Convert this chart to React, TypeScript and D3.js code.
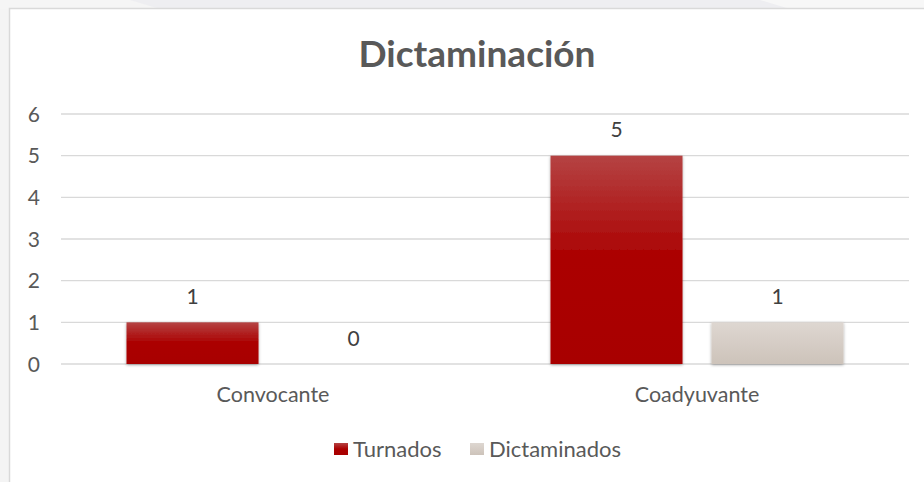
import React, { useEffect, useRef } from "react";
import * as d3 from "d3";

const categories = ["Convocante", "Coadyuvante"];
const seriesNames = ["Turnados", "Dictaminados"];
const turnados = [1, 5];
const dictaminados = [0, 1];
const yTicks = [0, 1, 2, 3, 4, 5, 6];
const title = "Dictaminación";

const W = 924;
const H = 482;
const FONT = "Lato, 'Open Sans', sans-serif";

export default function App() {
  const ref = useRef<SVGSVGElement | null>(null);

  useEffect(() => {
    const svg = d3.select(ref.current);
    svg.selectAll("*").remove();

    const defs = svg.append("defs");
    const g1 = defs.append("linearGradient").attr("id", "gRed").attr("x1", 0).attr("y1", 0).attr("x2", 0).attr("y2", 1);
    g1.append("stop").attr("offset", "0%").attr("stop-color", "#b54343");
    g1.append("stop").attr("offset", "50%").attr("stop-color", "#ab0000");
    g1.append("stop").attr("offset", "100%").attr("stop-color", "#a80000");
    const g2 = defs.append("linearGradient").attr("id", "gBeige").attr("x1", 0).attr("y1", 0).attr("x2", 0).attr("y2", 1);
    g2.append("stop").attr("offset", "0%").attr("stop-color", "#ded7d1");
    g2.append("stop").attr("offset", "100%").attr("stop-color", "#cdc3ba");
    const f = defs.append("filter").attr("id", "shadow").attr("x", "-20%").attr("y", "-20%").attr("width", "140%").attr("height", "140%");
    f.append("feDropShadow").attr("dx", 0).attr("dy", 1).attr("stdDeviation", 1.6).attr("flood-color", "#000").attr("flood-opacity", 0.35);

    // page background
    svg.append("rect").attr("x", 0).attr("y", 0).attr("width", W).attr("height", H).attr("fill", "#f4f4f4");
    svg.append("rect").attr("x", 0).attr("y", 0).attr("width", W).attr("height", 9).attr("fill", "#eeeef1");
    svg.append("path").attr("d", "M0,0 L130,0 L160,9 L0,9 Z").attr("fill", "#f5f5f5");
    svg.append("path").attr("d", "M760,0 L924,0 L924,9 L790,9 Z").attr("fill", "#f7f7f7");
    // chart area
    svg.append("rect").attr("x", 9.5).attr("y", 8.5).attr("width", W).attr("height", H).attr("fill", "#ffffff").attr("stroke", "#d9d9d9").attr("stroke-width", 1.5);

    const x0 = d3.scaleBand().domain(categories).range([61, 909]);
    const x1 = d3.scaleBand().domain(seriesNames).range([0, x0.bandwidth()]).paddingInner(0.18).paddingOuter(0.407);
    const y = d3.scaleLinear().domain([0, 6]).range([364, 114]);

    // gridlines
    svg.append("g").selectAll("line").data(yTicks).join("line")
      .attr("x1", 61).attr("x2", 909)
      .attr("y1", (d) => y(d)).attr("y2", (d) => y(d))
      .attr("stroke", "#d9d9d9").attr("stroke-width", 1.3);

    // y labels
    svg.append("g").selectAll("text").data(yTicks).join("text")
      .attr("x", 40).attr("y", (d) => y(d)).attr("dy", "0.36em")
      .attr("text-anchor", "end").attr("font-family", FONT).attr("font-size", 21).attr("fill", "#595959")
      .text((d) => String(d));

    // title
    svg.append("text").attr("x", 477).attr("y", 67).attr("text-anchor", "middle")
      .attr("font-family", FONT).attr("font-weight", 700).attr("font-size", 37).attr("fill", "#595959").text(title);

    const series = [
      { name: seriesNames[0], values: turnados, fill: "url(#gRed)" },
      { name: seriesNames[1], values: dictaminados, fill: "url(#gBeige)" },
    ];

    series.forEach((s) => {
      const gs = svg.append("g");
      gs.selectAll("rect").data(s.values.map((v, i) => ({ v, c: categories[i] }))).join("rect")
        .attr("x", (d) => (x0(d.c) as number) + (x1(s.name) as number))
        .attr("width", x1.bandwidth())
        .attr("y", (d) => y(d.v))
        .attr("height", (d) => y(0) - y(d.v))
        .attr("fill", s.fill)
        .attr("filter", "url(#shadow)")
        .attr("display", (d) => (d.v === 0 ? "none" : null));
      gs.selectAll("text").data(s.values.map((v, i) => ({ v, c: categories[i] }))).join("text")
        .attr("x", (d) => (x0(d.c) as number) + (x1(s.name) as number) + x1.bandwidth() / 2)
        .attr("y", (d) => y(d.v) - 26)
        .attr("dy", "0.36em")
        .attr("text-anchor", "middle").attr("font-family", FONT).attr("font-size", 21).attr("fill", "#404040")
        .text((d) => String(d.v));
    });

    // category labels
    svg.append("g").selectAll("text").data(categories).join("text")
      .attr("x", (d) => (x0(d) as number) + x0.bandwidth() / 2)
      .attr("y", 394).attr("dy", "0.36em").attr("text-anchor", "middle")
      .attr("font-family", FONT).attr("font-size", 21.5).attr("fill", "#595959").text((d) => d);

    // legend
    const legendX = [334, 470];
    const lg = svg.append("g");
    series.forEach((s, i) => {
      lg.append("rect").attr("x", legendX[i]).attr("y", 443).attr("width", 14).attr("height", 12).attr("fill", s.fill);
      lg.append("text").attr("x", legendX[i] + 19).attr("y", 449).attr("dy", "0.36em")
        .attr("font-family", FONT).attr("font-size", 22).attr("fill", "#595959").text(s.name);
    });
  }, []);

  return (
    <svg ref={ref} width={W} height={H} style={{ position: "absolute", left: 0, top: 0 }} />
  );
}
